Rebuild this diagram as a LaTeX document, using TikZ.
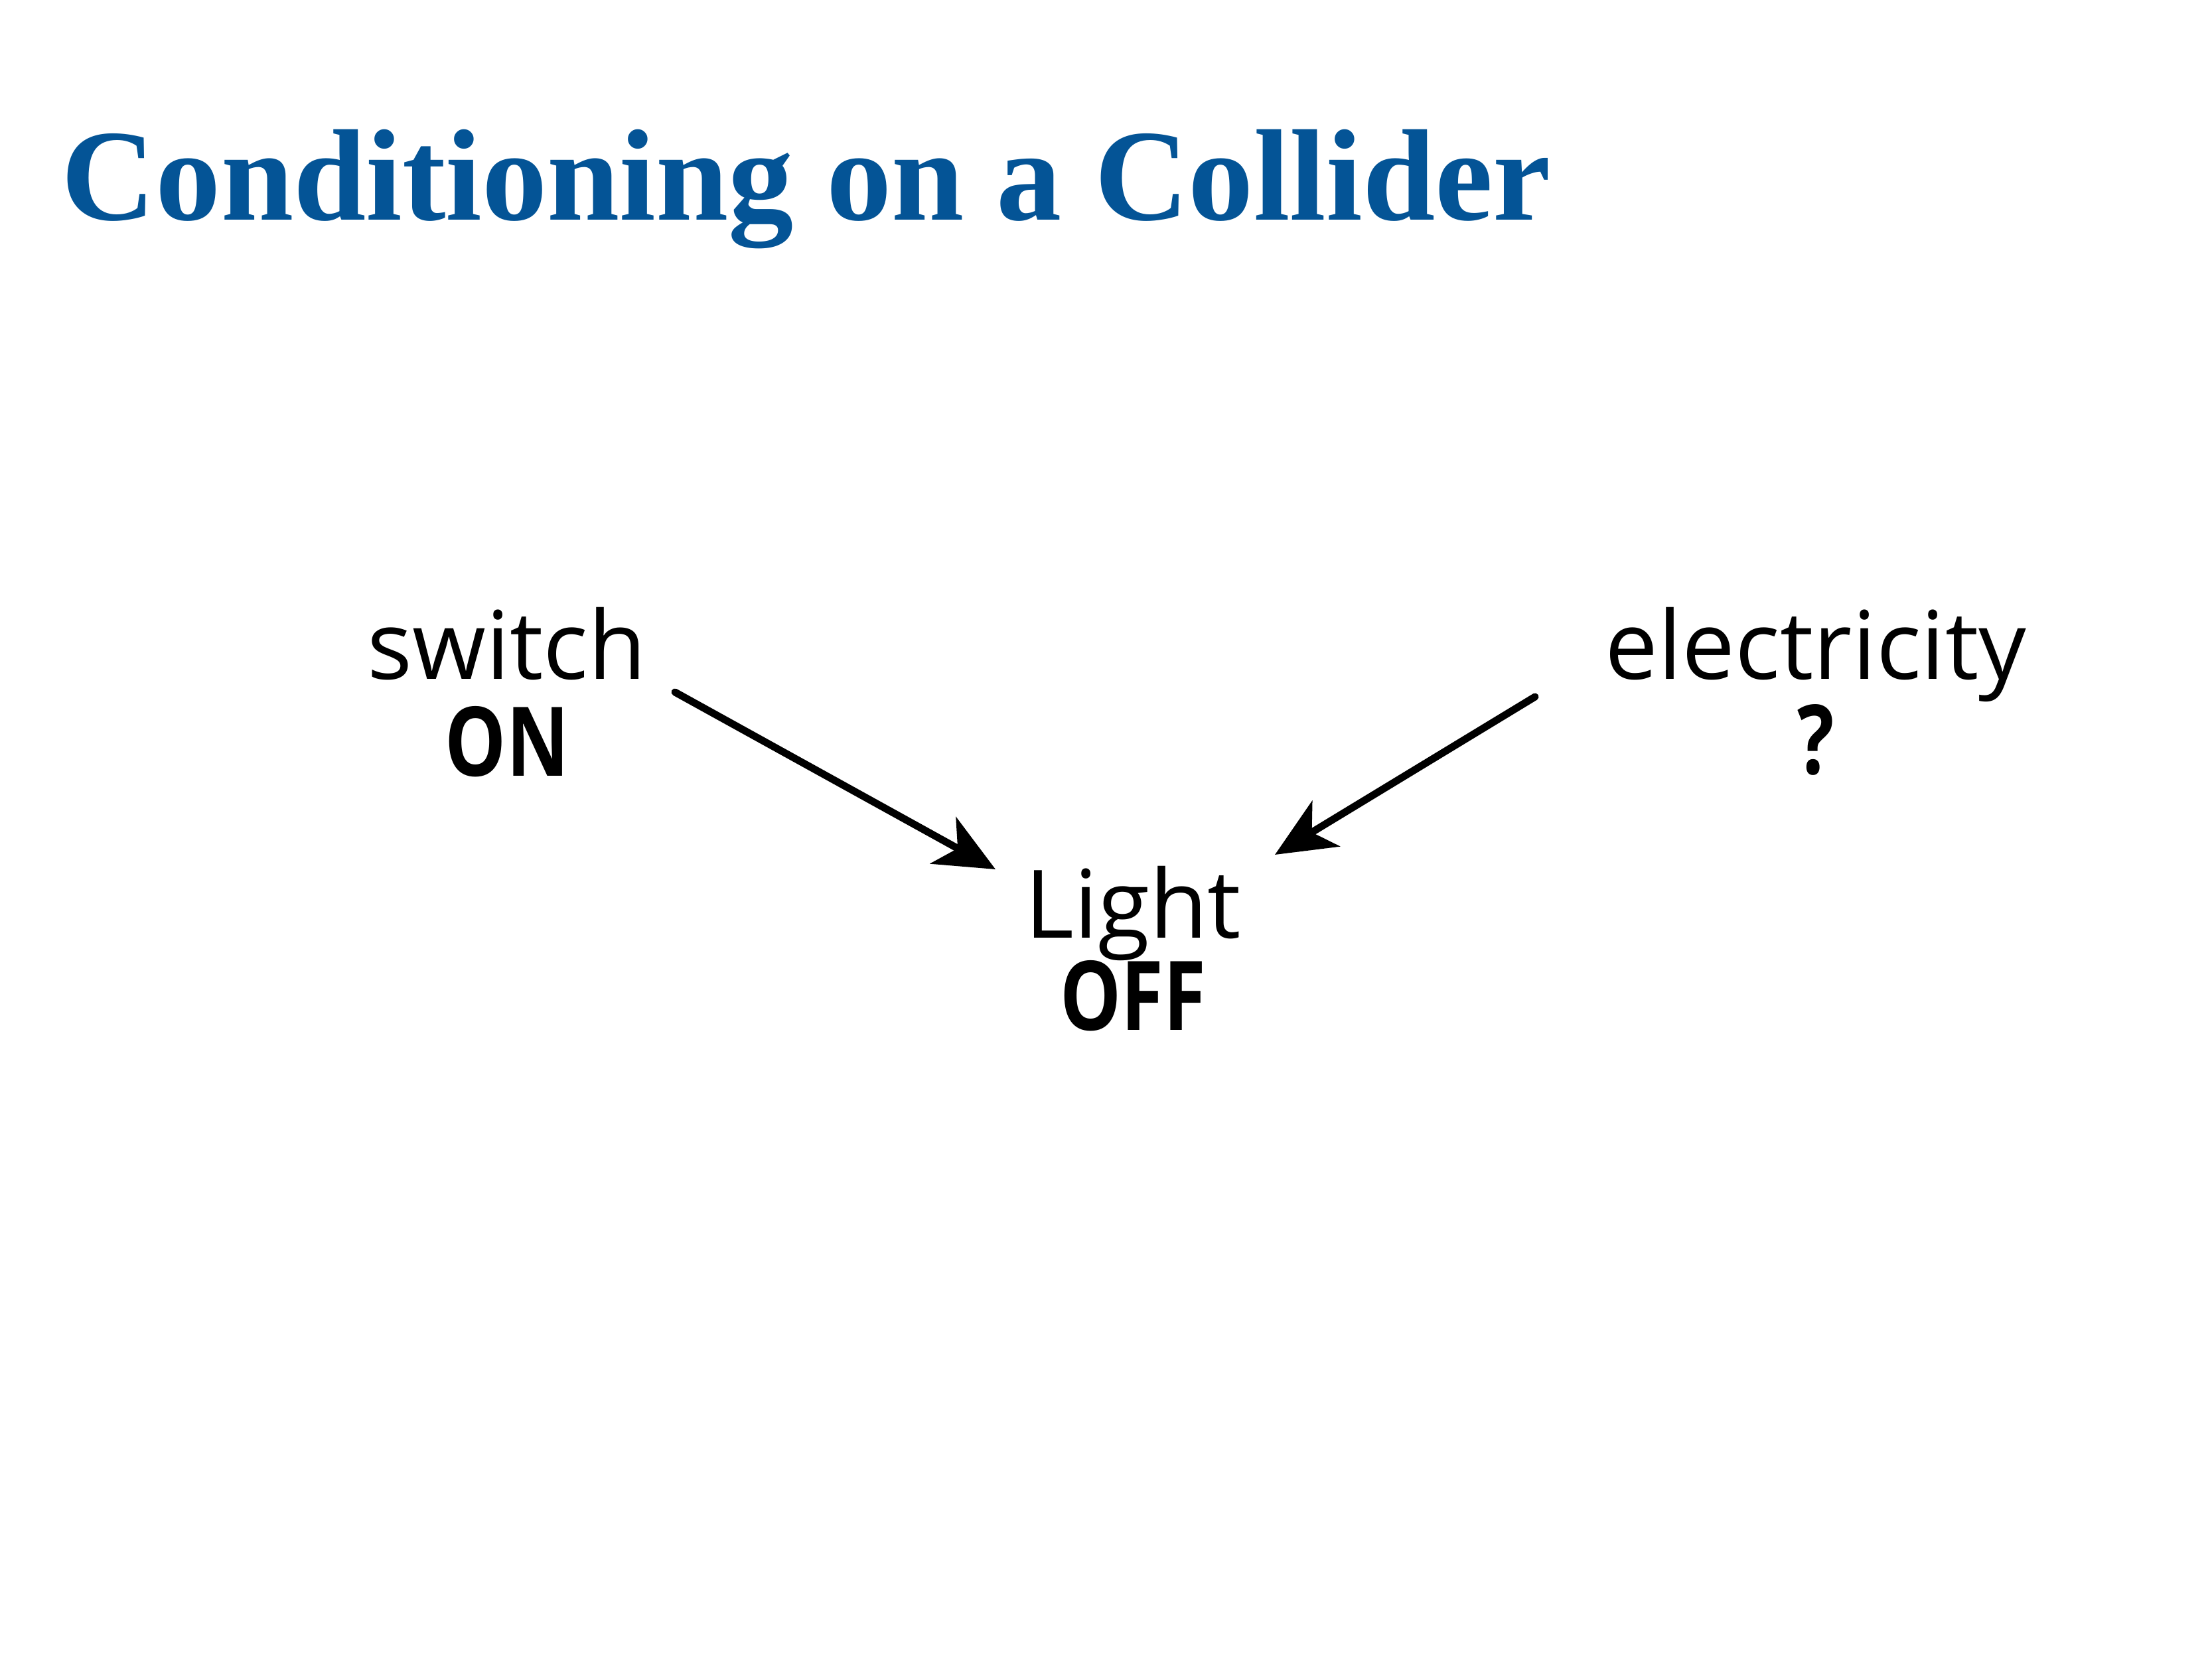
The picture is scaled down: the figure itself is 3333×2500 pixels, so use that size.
\documentclass[tikz,border=0pt]{standalone}
\usepackage{fontspec}
\setmainfont{Liberation Serif}
\newfontfamily\hand{Open Sans}
\newfontfamily\handval[FakeStretch=0.8]{Open Sans}
\usetikzlibrary{arrows.meta}
\definecolor{titleblue}{RGB}{4,84,150}
\begin{document}
\begin{tikzpicture}[x=0.2pt,y=-0.2pt,
  lbl/.style={anchor=base, inner sep=0pt, font=\hand\fontsize{28.5}{29}\selectfont},
  val/.style={anchor=base, inner sep=0pt, font=\handval\bfseries\fontsize{29}{29}\selectfont},
  sketcharrow/.style={line width=2.2pt, line cap=round, -{Stealth[length=18pt,width=16pt,inset=5pt]}}]
\useasboundingbox (0,0) rectangle (3333,2500);
\node[anchor=base west, inner sep=0pt, text=titleblue, font=\fontsize{39.3}{40}\bfseries\selectfont] (title) at (92,332) {Conditioning on a Collider};
\node[lbl] (switch) at (764,1024) {switch};
\node[val] (on) at (764,1170) {ON};
\node[lbl] (elec) at (2736,1024) {electricity};
\node[val] (q) at (2736,1167) {?};
\node[lbl] (light) at (1707,1414) {Light};
\node[val] (off) at (1707,1553) {OFF};
\coordinate (a1s) at (1017,1043);
\coordinate (a1e) at (1500,1310);
\coordinate (a2s) at (2313,1050);
\coordinate (a2e) at (1921,1288);
\draw[sketcharrow] (a1s) -- (a1e);
\draw[sketcharrow] (a2s) -- (a2e);
\end{tikzpicture}
\end{document}
